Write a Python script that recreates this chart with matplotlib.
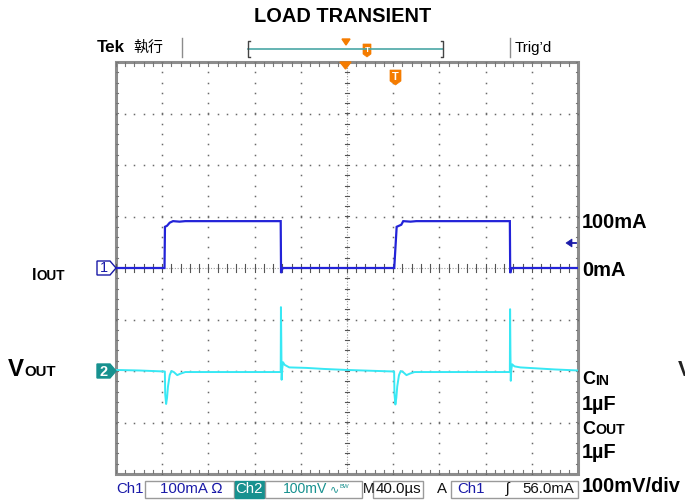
import matplotlib
matplotlib.use('Agg')
import matplotlib.pyplot as plt
import numpy as np
from matplotlib.patches import Polygon, Rectangle

plt.rcParams['font.family'] = ['Liberation Sans', 'DejaVu Sans', 'Noto Sans CJK SC']

# ---------------- data ----------------
title = "LOAD TRANSIENT"
time_per_div_us = 40.0
ch1_mA_per_div = 100.0
ch2_mV_per_div = 100.0
ch2_offset_div = -2.0
trigger_level_mA = 56.0

iout_t_us = [0, 42.0, 42.4, 44.2, 46.5, 49.4, 55, 60, 142.6, 142.9, 143.4, 144.5,
             240.5, 240.9, 243.0, 247.0, 248.7, 255, 260, 341.0, 341.3, 341.8, 343.0, 400]
iout_mA = [0, 0, 80, 82, 88, 91, 90, 91, 91, -10, -4, 0,
           0, 0, 80, 84, 91, 90, 91, 91, -10, -4, 0, 0]

vout_t_us = [0, 20, 42.3, 42.6, 43.4, 44.2, 45.0, 46.5, 48.0, 50, 53, 56, 60,
             142.6, 142.8, 143.1, 143.4, 143.8, 144.6, 146, 150, 165, 180, 200,
             240.8, 241.1, 241.9, 242.7, 243.5, 245.0, 246.5, 248.5, 251.5, 254.5, 258.5,
             341.0, 341.2, 341.5, 341.8, 342.2, 343.0, 345, 350, 365, 380, 400]
vout_mV = [2, 1, -1, -45, -64, -52, -30, -8, 0, -2, -8, -5, -2,
           -2, 124, 60, -17, 2, 17, 12, 7, 6, 4, 2,
           -1, -45, -65, -52, -30, -8, 0, -2, -8, -5, -2,
           -2, 120, 37, -19, 2, 13, 9, 7, 5, 3, 1]

right_labels = ["100mA", "0mA"]
status_ch1 = "100mA \u2126"
status_ch2 = "100mV"
status_time = "40.0\u00b5s"
status_trig = "56.0mA"

# ---------------- figure ----------------
W, H = 685, 504
fig = plt.figure(figsize=(W / 100, H / 100), dpi=100)
fig.patch.set_facecolor('white')

def fx(x):
    return x / W

def fy(y):
    return 1 - y / H

def ftxt(x, y, s, size_px, **kw):
    kw.setdefault('va', 'center')
    fig.text(fx(x), fy(y), s, fontsize=size_px * 0.72, **kw)

BLUE = '#2323d8'
BLUE_TXT = '#1a1aa8'
CYAN = '#38e8f4'
TEAL = '#17918f'
ORANGE = '#f57c00'
GRAY = '#8c8c8c'

# graticule axes
gl, gr, gt, gb = 116, 578, 62, 474
ax = fig.add_axes([fx(gl), fy(gb), (gr - gl) / W, (gb - gt) / H])
ax.set_xlim(0, 10 * time_per_div_us)
ax.set_ylim(-4, 4)
ax.axis('off')

xdiv = time_per_div_us
# grid dots along major lines
for i in range(1, 10):
    if i == 5:
        continue
    ys = np.arange(-4, 4.001, 0.2)
    ax.plot(np.full_like(ys, i * xdiv), ys, ls='none', marker='s', ms=1.1,
            color='#6a6a6a', mec='none')
for j in range(-3, 4):
    if j == 0:
        continue
    xs = np.arange(0, 10 * xdiv + 0.01, xdiv / 5)
    ax.plot(xs, np.full_like(xs, j), ls='none', marker='s', ms=1.1,
            color='#6a6a6a', mec='none')

# center cross
ax.plot([0, 10 * xdiv], [0, 0], color='#9a9a9a', lw=0.8, ls=(0, (1, 1.5)))
ax.plot([5 * xdiv, 5 * xdiv], [-4, 4], color='#9a9a9a', lw=0.8, ls=(0, (1, 1.5)))
for xv in np.arange(0, 10 * xdiv + 0.01, xdiv / 5):
    ax.plot([xv, xv], [-0.07, 0.07], color='#555555', lw=0.8)
for yv in np.arange(-4, 4.001, 0.2):
    ax.plot([5 * xdiv - 1.6, 5 * xdiv + 1.6], [yv, yv], color='#555555', lw=0.8)

# border ticks
for xv in np.arange(0, 10 * xdiv + 0.01, xdiv / 5):
    ax.plot([xv, xv], [4, 3.93], color='#777777', lw=0.8)
    ax.plot([xv, xv], [-4, -3.93], color='#777777', lw=0.8)
for yv in np.arange(-4, 4.001, 0.2):
    ax.plot([0, 1.6], [yv, yv], color='#777777', lw=0.8)
    ax.plot([10 * xdiv, 10 * xdiv - 1.6], [yv, yv], color='#777777', lw=0.8)

ax.add_patch(Rectangle((0, -4), 10 * xdiv, 8, fill=False, ec=GRAY, lw=2.2,
                       clip_on=False))

# traces
ax.plot(iout_t_us, np.array(iout_mA) / ch1_mA_per_div, color=BLUE, lw=1.6,
        solid_joinstyle='miter', zorder=5)
ax.plot(vout_t_us, ch2_offset_div + np.array(vout_mV) / ch2_mV_per_div,
        color=CYAN, lw=1.4, zorder=4)

# ---------------- overlay (figure coordinate) elements ----------------
ov = fig.add_axes([0, 0, 1, 1], facecolor='none')
ov.set_xlim(0, W)
ov.set_ylim(H, 0)
ov.axis('off')

# channel markers
def marker(yc, fc, ec, txt, tc):
    pts = [(97, yc - 7), (110, yc - 7), (116, yc), (110, yc + 7), (97, yc + 7)]
    ov.add_patch(Polygon(pts, closed=True, fc=fc, ec=ec, lw=1.0))
    ov.text(104, yc + 0.5, txt, color=tc, fontsize=10.5, ha='center', va='center',
            fontweight='bold' if tc == 'white' else 'normal')

marker(268, 'white', BLUE_TXT, '1', BLUE_TXT)
marker(371, TEAL, TEAL, '2', 'white')

# trigger level arrow (right side)
ov.add_patch(Polygon([(566, 243), (572, 239), (572, 247)], closed=True,
                     fc=BLUE_TXT, ec=BLUE_TXT, lw=0.5))
ov.plot([571, 576], [243, 243], color=BLUE_TXT, lw=1.3)

# orange trigger markers on graticule
ov.add_patch(Polygon([(340, 62), (351, 62), (345.5, 69)], closed=True, fc=ORANGE,
                     ec=ORANGE))
ov.add_patch(Polygon([(390, 70), (401, 70), (401, 81), (395.5, 85), (390, 81)],
                     closed=True, fc=ORANGE, ec=ORANGE, lw=0.5))
ov.text(395.5, 76.5, 'T', color='white', fontsize=8, fontweight='bold',
        ha='center', va='center')

# header
ftxt(97, 48, 'Tek', 17, fontweight='bold', ha='left')
ftxt(133, 48, '\u57f7\u884c', 15, ha='left', family=['Noto Sans CJK SC', 'DejaVu Sans'])
ov.plot([182, 182], [38, 57], color=GRAY, lw=1.0)
ov.plot([510, 510], [38, 57], color=GRAY, lw=1.0)
ov.plot([248, 443], [49, 49], color='#4aa7a5', lw=1.2)
ov.plot([250, 248, 248, 250], [41, 41, 57, 57], color='#444444', lw=1.0)
ov.plot([441, 443, 443, 441], [41, 41, 57, 57], color='#444444', lw=1.0)
ov.add_patch(Polygon([(342, 39), (350, 39), (346, 45)], closed=True, fc=ORANGE,
                     ec=ORANGE))
ov.add_patch(Polygon([(363, 44), (371, 44), (371, 54), (367, 57), (363, 54)],
                     closed=True, fc=ORANGE, ec=ORANGE, lw=0.5))
ov.text(367, 50, 'T', color='white', fontsize=6, fontweight='bold', ha='center',
        va='center')
ftxt(515, 48, "Trig\u2019d", 15, ha='left')

# title
ftxt(343, 16, title, 20, fontweight='bold', ha='center')

# left labels
ftxt(32, 275, 'I', 16, fontweight='bold', ha='left')
ftxt(36.5, 276, 'OUT', 13.5, fontweight='bold', ha='left')
ftxt(8, 370, 'V', 24, fontweight='bold', ha='left')
ftxt(24.5, 371.5, 'OUT', 15, fontweight='bold', ha='left')

# right labels
ftxt(582, 223, right_labels[0], 20, fontweight='bold', ha='left')
ftxt(582, 270, right_labels[1], 20, fontweight='bold', ha='left')
ftxt(582, 380, 'C', 18, fontweight='bold', ha='left')
ftxt(595, 381, 'IN', 14, fontweight='bold', ha='left')
ftxt(582, 405, '1\u00b5F', 20, fontweight='bold', ha='left')
ftxt(582, 429, 'C', 18, fontweight='bold', ha='left')
ftxt(595, 430, 'OUT', 14, fontweight='bold', ha='left')
ftxt(582, 453, '1\u00b5F', 20, fontweight='bold', ha='left')
ftxt(582, 487, '100mV/div', 20, fontweight='bold', ha='left')
ftxt(678, 370, 'V', 22, fontweight='bold', ha='left', color='#222222')

# status bar
sy = 489
def box(x0, x1, fc='white', ec='#9a9a9a'):
    ov.add_patch(Rectangle((x0, 481), x1 - x0, 17, fc=fc, ec=ec, lw=1.0))

ftxt(116, sy, 'Ch1', 15, color=BLUE_TXT, ha='left')
box(145, 234)
ftxt(160, sy, status_ch1, 15, color=BLUE_TXT, ha='left')
box(235, 264, fc=TEAL, ec=TEAL)
ftxt(249.5, sy, 'Ch2', 15, color='white', ha='center')
box(265, 362)
ftxt(283, sy, status_ch2, 14, color=TEAL, ha='left')
ftxt(330, sy, '\u223f', 11, color=TEAL, ha='left')
ftxt(339, sy - 3, 'BW', 6, color=TEAL, ha='left')
ftxt(363, sy, 'M', 14, color='#111111', ha='left')
box(373, 423)
ftxt(376, sy, status_time, 15, color='#111111', ha='left')
ftxt(437, sy, 'A', 15, color='#111111', ha='left')
box(451, 578)
ftxt(457, sy, 'Ch1', 15, color=BLUE_TXT, ha='left')
ftxt(506, sy, '\u0283', 15, color='#111111', ha='left')
ftxt(522, sy, status_trig, 15, color='#111111', ha='left')

fig.savefig('out.png', dpi=100)
